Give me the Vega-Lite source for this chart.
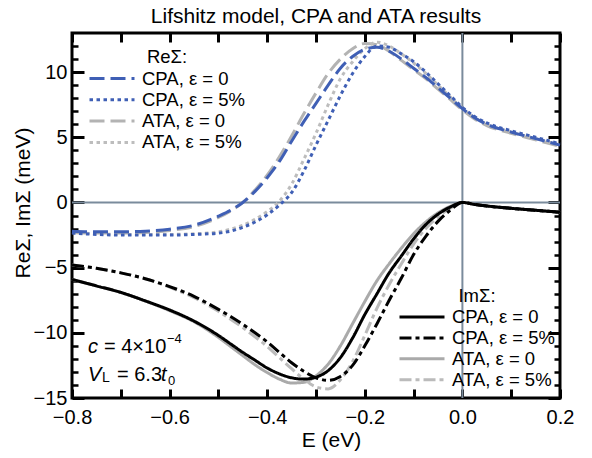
{
"$schema":"https://vega.github.io/schema/vega-lite/v6.json",
"width":488,"height":365,
"autosize":{"type":"none"},
"padding":{"left":72,"top":33,"right":32,"bottom":60},
"title":{"text":"Lifshitz model, CPA and ATA results","fontSize":21,"fontWeight":"normal","color":"black","anchor":"middle","offset":5},
"config":{
 "font":"Liberation Sans",
 "view":{"stroke":"black","strokeWidth":3},
 "axis":{"grid":false,"domain":false,"labelColor":"black","titleColor":"black","tickColor":"black","labelFontSize":20,"titleFontSize":21,"titleFontWeight":"normal","labelFlush":false,"labelOverlap":false},
 "legend":{"symbolType":"stroke","symbolSize":2025,"symbolStrokeWidth":3,"clipHeight":20,"titlePadding":2,"labelFontSize":18.5,"titleFontSize":18.5,"titleFontWeight":"normal","labelOffset":6,"titleAnchor":"middle","titleAlign":"center","labelColor":"black","titleColor":"black","padding":0,"orient":"none"},
 "text":{"fontSize":20,"color":"black"}
},
"data":{"values":[{}]},
"datasets":{
"re":[
{"s":"ATA, ε = 0","E":-0.8,"v":-2.3},{"s":"ATA, ε = 0","E":-0.75,"v":-2.35},{"s":"ATA, ε = 0","E":-0.7,"v":-2.35},{"s":"ATA, ε = 0","E":-0.65,"v":-2.3},{"s":"ATA, ε = 0","E":-0.6,"v":-2.15},{"s":"ATA, ε = 0","E":-0.55,"v":-1.85},{"s":"ATA, ε = 0","E":-0.5,"v":-1.15},{"s":"ATA, ε = 0","E":-0.475,"v":-0.65},{"s":"ATA, ε = 0","E":-0.45,"v":0.0},{"s":"ATA, ε = 0","E":-0.425,"v":0.95},{"s":"ATA, ε = 0","E":-0.4,"v":2.1},{"s":"ATA, ε = 0","E":-0.375,"v":3.5},{"s":"ATA, ε = 0","E":-0.35,"v":5.1},{"s":"ATA, ε = 0","E":-0.325,"v":6.8},{"s":"ATA, ε = 0","E":-0.3,"v":8.4},{"s":"ATA, ε = 0","E":-0.275,"v":9.9},{"s":"ATA, ε = 0","E":-0.25,"v":11.0},{"s":"ATA, ε = 0","E":-0.225,"v":11.8},{"s":"ATA, ε = 0","E":-0.2,"v":12.2},{"s":"ATA, ε = 0","E":-0.175,"v":12.1},{"s":"ATA, ε = 0","E":-0.15,"v":11.6},{"s":"ATA, ε = 0","E":-0.125,"v":10.9},{"s":"ATA, ε = 0","E":-0.1,"v":10.2},{"s":"ATA, ε = 0","E":-0.075,"v":9.5},{"s":"ATA, ε = 0","E":-0.05,"v":8.7},{"s":"ATA, ε = 0","E":-0.025,"v":7.9},{"s":"ATA, ε = 0","E":0,"v":7.1},{"s":"ATA, ε = 0","E":0.025,"v":6.4},{"s":"ATA, ε = 0","E":0.05,"v":5.9},{"s":"ATA, ε = 0","E":0.1,"v":5.3},{"s":"ATA, ε = 0","E":0.15,"v":4.8},{"s":"ATA, ε = 0","E":0.2,"v":4.3},
{"s":"ATA, ε = 5%","E":-0.8,"v":-2.3},{"s":"ATA, ε = 5%","E":-0.75,"v":-2.4},{"s":"ATA, ε = 5%","E":-0.7,"v":-2.45},{"s":"ATA, ε = 5%","E":-0.65,"v":-2.45},{"s":"ATA, ε = 5%","E":-0.6,"v":-2.45},{"s":"ATA, ε = 5%","E":-0.55,"v":-2.4},{"s":"ATA, ε = 5%","E":-0.5,"v":-2.25},{"s":"ATA, ε = 5%","E":-0.475,"v":-2.05},{"s":"ATA, ε = 5%","E":-0.45,"v":-1.75},{"s":"ATA, ε = 5%","E":-0.425,"v":-1.3},{"s":"ATA, ε = 5%","E":-0.4,"v":-0.7},{"s":"ATA, ε = 5%","E":-0.375,"v":0.1},{"s":"ATA, ε = 5%","E":-0.35,"v":1.4},{"s":"ATA, ε = 5%","E":-0.325,"v":3.3},{"s":"ATA, ε = 5%","E":-0.3,"v":5.3},{"s":"ATA, ε = 5%","E":-0.275,"v":7.5},{"s":"ATA, ε = 5%","E":-0.25,"v":9.5},{"s":"ATA, ε = 5%","E":-0.225,"v":10.8},{"s":"ATA, ε = 5%","E":-0.2,"v":11.8},{"s":"ATA, ε = 5%","E":-0.175,"v":12.3},{"s":"ATA, ε = 5%","E":-0.15,"v":12.0},{"s":"ATA, ε = 5%","E":-0.125,"v":11.4},{"s":"ATA, ε = 5%","E":-0.1,"v":10.7},{"s":"ATA, ε = 5%","E":-0.075,"v":9.9},{"s":"ATA, ε = 5%","E":-0.05,"v":9.0},{"s":"ATA, ε = 5%","E":-0.025,"v":8.1},{"s":"ATA, ε = 5%","E":0,"v":7.2},{"s":"ATA, ε = 5%","E":0.025,"v":6.5},{"s":"ATA, ε = 5%","E":0.05,"v":6.0},{"s":"ATA, ε = 5%","E":0.1,"v":5.4},{"s":"ATA, ε = 5%","E":0.15,"v":4.9},{"s":"ATA, ε = 5%","E":0.2,"v":4.4},
{"s":"CPA, ε = 0","E":-0.8,"v":-2.2},{"s":"CPA, ε = 0","E":-0.75,"v":-2.25},{"s":"CPA, ε = 0","E":-0.7,"v":-2.25},{"s":"CPA, ε = 0","E":-0.65,"v":-2.2},{"s":"CPA, ε = 0","E":-0.6,"v":-2.05},{"s":"CPA, ε = 0","E":-0.55,"v":-1.75},{"s":"CPA, ε = 0","E":-0.5,"v":-1.05},{"s":"CPA, ε = 0","E":-0.475,"v":-0.6},{"s":"CPA, ε = 0","E":-0.45,"v":0.0},{"s":"CPA, ε = 0","E":-0.425,"v":0.85},{"s":"CPA, ε = 0","E":-0.4,"v":1.9},{"s":"CPA, ε = 0","E":-0.375,"v":3.15},{"s":"CPA, ε = 0","E":-0.35,"v":4.7},{"s":"CPA, ε = 0","E":-0.325,"v":6.2},{"s":"CPA, ε = 0","E":-0.3,"v":7.6},{"s":"CPA, ε = 0","E":-0.275,"v":9.0},{"s":"CPA, ε = 0","E":-0.25,"v":10.3},{"s":"CPA, ε = 0","E":-0.225,"v":11.2},{"s":"CPA, ε = 0","E":-0.2,"v":11.75},{"s":"CPA, ε = 0","E":-0.175,"v":11.9},{"s":"CPA, ε = 0","E":-0.15,"v":11.6},{"s":"CPA, ε = 0","E":-0.125,"v":11.0},{"s":"CPA, ε = 0","E":-0.1,"v":10.3},{"s":"CPA, ε = 0","E":-0.075,"v":9.6},{"s":"CPA, ε = 0","E":-0.05,"v":8.8},{"s":"CPA, ε = 0","E":-0.025,"v":8.0},{"s":"CPA, ε = 0","E":0,"v":7.2},{"s":"CPA, ε = 0","E":0.025,"v":6.5},{"s":"CPA, ε = 0","E":0.05,"v":6.0},{"s":"CPA, ε = 0","E":0.1,"v":5.4},{"s":"CPA, ε = 0","E":0.15,"v":4.9},{"s":"CPA, ε = 0","E":0.2,"v":4.4},
{"s":"CPA, ε = 5%","E":-0.8,"v":-2.35},{"s":"CPA, ε = 5%","E":-0.75,"v":-2.45},{"s":"CPA, ε = 5%","E":-0.7,"v":-2.5},{"s":"CPA, ε = 5%","E":-0.65,"v":-2.5},{"s":"CPA, ε = 5%","E":-0.6,"v":-2.5},{"s":"CPA, ε = 5%","E":-0.55,"v":-2.45},{"s":"CPA, ε = 5%","E":-0.5,"v":-2.35},{"s":"CPA, ε = 5%","E":-0.475,"v":-2.2},{"s":"CPA, ε = 5%","E":-0.45,"v":-1.9},{"s":"CPA, ε = 5%","E":-0.425,"v":-1.5},{"s":"CPA, ε = 5%","E":-0.4,"v":-0.95},{"s":"CPA, ε = 5%","E":-0.375,"v":-0.2},{"s":"CPA, ε = 5%","E":-0.35,"v":0.75},{"s":"CPA, ε = 5%","E":-0.325,"v":2.4},{"s":"CPA, ε = 5%","E":-0.3,"v":4.4},{"s":"CPA, ε = 5%","E":-0.275,"v":6.3},{"s":"CPA, ε = 5%","E":-0.25,"v":8.2},{"s":"CPA, ε = 5%","E":-0.225,"v":9.9},{"s":"CPA, ε = 5%","E":-0.2,"v":11.2},{"s":"CPA, ε = 5%","E":-0.175,"v":12.0},{"s":"CPA, ε = 5%","E":-0.15,"v":11.9},{"s":"CPA, ε = 5%","E":-0.125,"v":11.4},{"s":"CPA, ε = 5%","E":-0.1,"v":10.8},{"s":"CPA, ε = 5%","E":-0.075,"v":10.0},{"s":"CPA, ε = 5%","E":-0.05,"v":9.1},{"s":"CPA, ε = 5%","E":-0.025,"v":8.2},{"s":"CPA, ε = 5%","E":0,"v":7.3},{"s":"CPA, ε = 5%","E":0.025,"v":6.6},{"s":"CPA, ε = 5%","E":0.05,"v":6.1},{"s":"CPA, ε = 5%","E":0.1,"v":5.5},{"s":"CPA, ε = 5%","E":0.15,"v":5.0},{"s":"CPA, ε = 5%","E":0.2,"v":4.5}
],
"im":[
{"s":"ATA, ε = 0","E":-0.8,"v":-5.9},{"s":"ATA, ε = 0","E":-0.75,"v":-6.4},{"s":"ATA, ε = 0","E":-0.7,"v":-6.9},{"s":"ATA, ε = 0","E":-0.65,"v":-7.55},{"s":"ATA, ε = 0","E":-0.6,"v":-8.3},{"s":"ATA, ε = 0","E":-0.55,"v":-9.15},{"s":"ATA, ε = 0","E":-0.5,"v":-10.35},{"s":"ATA, ε = 0","E":-0.475,"v":-11.05},{"s":"ATA, ε = 0","E":-0.45,"v":-11.75},{"s":"ATA, ε = 0","E":-0.425,"v":-12.45},{"s":"ATA, ε = 0","E":-0.4,"v":-13.05},{"s":"ATA, ε = 0","E":-0.375,"v":-13.55},{"s":"ATA, ε = 0","E":-0.35,"v":-13.85},{"s":"ATA, ε = 0","E":-0.325,"v":-13.8},{"s":"ATA, ε = 0","E":-0.3,"v":-13.3},{"s":"ATA, ε = 0","E":-0.275,"v":-12.4},{"s":"ATA, ε = 0","E":-0.25,"v":-11.0},{"s":"ATA, ε = 0","E":-0.225,"v":-9.3},{"s":"ATA, ε = 0","E":-0.2,"v":-7.6},{"s":"ATA, ε = 0","E":-0.175,"v":-6.0},{"s":"ATA, ε = 0","E":-0.15,"v":-4.7},{"s":"ATA, ε = 0","E":-0.125,"v":-3.5},{"s":"ATA, ε = 0","E":-0.1,"v":-2.4},{"s":"ATA, ε = 0","E":-0.075,"v":-1.5},{"s":"ATA, ε = 0","E":-0.05,"v":-0.8},{"s":"ATA, ε = 0","E":-0.025,"v":-0.3},{"s":"ATA, ε = 0","E":0,"v":0.0},{"s":"ATA, ε = 0","E":0.025,"v":-0.15},{"s":"ATA, ε = 0","E":0.05,"v":-0.27},{"s":"ATA, ε = 0","E":0.1,"v":-0.45},{"s":"ATA, ε = 0","E":0.15,"v":-0.6},{"s":"ATA, ε = 0","E":0.2,"v":-0.75},
{"s":"ATA, ε = 5%","E":-0.8,"v":-4.8},{"s":"ATA, ε = 5%","E":-0.75,"v":-5.05},{"s":"ATA, ε = 5%","E":-0.7,"v":-5.4},{"s":"ATA, ε = 5%","E":-0.65,"v":-5.85},{"s":"ATA, ε = 5%","E":-0.6,"v":-6.5},{"s":"ATA, ε = 5%","E":-0.55,"v":-7.3},{"s":"ATA, ε = 5%","E":-0.5,"v":-8.35},{"s":"ATA, ε = 5%","E":-0.475,"v":-8.95},{"s":"ATA, ε = 5%","E":-0.45,"v":-9.6},{"s":"ATA, ε = 5%","E":-0.425,"v":-10.3},{"s":"ATA, ε = 5%","E":-0.4,"v":-11.05},{"s":"ATA, ε = 5%","E":-0.375,"v":-11.9},{"s":"ATA, ε = 5%","E":-0.35,"v":-12.75},{"s":"ATA, ε = 5%","E":-0.325,"v":-13.55},{"s":"ATA, ε = 5%","E":-0.3,"v":-14.15},{"s":"ATA, ε = 5%","E":-0.275,"v":-14.3},{"s":"ATA, ε = 5%","E":-0.25,"v":-13.6},{"s":"ATA, ε = 5%","E":-0.225,"v":-12.2},{"s":"ATA, ε = 5%","E":-0.2,"v":-10.2},{"s":"ATA, ε = 5%","E":-0.175,"v":-8.1},{"s":"ATA, ε = 5%","E":-0.15,"v":-6.3},{"s":"ATA, ε = 5%","E":-0.125,"v":-4.7},{"s":"ATA, ε = 5%","E":-0.1,"v":-3.2},{"s":"ATA, ε = 5%","E":-0.075,"v":-2.0},{"s":"ATA, ε = 5%","E":-0.05,"v":-1.1},{"s":"ATA, ε = 5%","E":-0.025,"v":-0.45},{"s":"ATA, ε = 5%","E":0,"v":0.0},{"s":"ATA, ε = 5%","E":0.025,"v":-0.15},{"s":"ATA, ε = 5%","E":0.05,"v":-0.27},{"s":"ATA, ε = 5%","E":0.1,"v":-0.45},{"s":"ATA, ε = 5%","E":0.15,"v":-0.6},{"s":"ATA, ε = 5%","E":0.2,"v":-0.75},
{"s":"CPA, ε = 0","E":-0.8,"v":-5.9},{"s":"CPA, ε = 0","E":-0.75,"v":-6.4},{"s":"CPA, ε = 0","E":-0.7,"v":-6.9},{"s":"CPA, ε = 0","E":-0.65,"v":-7.55},{"s":"CPA, ε = 0","E":-0.6,"v":-8.25},{"s":"CPA, ε = 0","E":-0.55,"v":-9.1},{"s":"CPA, ε = 0","E":-0.5,"v":-10.2},{"s":"CPA, ε = 0","E":-0.475,"v":-10.85},{"s":"CPA, ε = 0","E":-0.45,"v":-11.5},{"s":"CPA, ε = 0","E":-0.425,"v":-12.1},{"s":"CPA, ε = 0","E":-0.4,"v":-12.7},{"s":"CPA, ε = 0","E":-0.375,"v":-13.15},{"s":"CPA, ε = 0","E":-0.35,"v":-13.45},{"s":"CPA, ε = 0","E":-0.325,"v":-13.55},{"s":"CPA, ε = 0","E":-0.3,"v":-13.4},{"s":"CPA, ε = 0","E":-0.275,"v":-12.9},{"s":"CPA, ε = 0","E":-0.25,"v":-11.9},{"s":"CPA, ε = 0","E":-0.225,"v":-10.4},{"s":"CPA, ε = 0","E":-0.2,"v":-8.6},{"s":"CPA, ε = 0","E":-0.175,"v":-7.0},{"s":"CPA, ε = 0","E":-0.15,"v":-5.4},{"s":"CPA, ε = 0","E":-0.125,"v":-4.1},{"s":"CPA, ε = 0","E":-0.1,"v":-2.8},{"s":"CPA, ε = 0","E":-0.075,"v":-1.7},{"s":"CPA, ε = 0","E":-0.05,"v":-0.9},{"s":"CPA, ε = 0","E":-0.025,"v":-0.35},{"s":"CPA, ε = 0","E":0,"v":0.0},{"s":"CPA, ε = 0","E":0.025,"v":-0.15},{"s":"CPA, ε = 0","E":0.05,"v":-0.27},{"s":"CPA, ε = 0","E":0.1,"v":-0.45},{"s":"CPA, ε = 0","E":0.15,"v":-0.6},{"s":"CPA, ε = 0","E":0.2,"v":-0.75},
{"s":"CPA, ε = 5%","E":-0.8,"v":-4.8},{"s":"CPA, ε = 5%","E":-0.75,"v":-5.05},{"s":"CPA, ε = 5%","E":-0.7,"v":-5.4},{"s":"CPA, ε = 5%","E":-0.65,"v":-5.85},{"s":"CPA, ε = 5%","E":-0.6,"v":-6.45},{"s":"CPA, ε = 5%","E":-0.55,"v":-7.2},{"s":"CPA, ε = 5%","E":-0.5,"v":-8.2},{"s":"CPA, ε = 5%","E":-0.475,"v":-8.75},{"s":"CPA, ε = 5%","E":-0.45,"v":-9.35},{"s":"CPA, ε = 5%","E":-0.425,"v":-10.0},{"s":"CPA, ε = 5%","E":-0.4,"v":-10.7},{"s":"CPA, ε = 5%","E":-0.375,"v":-11.5},{"s":"CPA, ε = 5%","E":-0.35,"v":-12.3},{"s":"CPA, ε = 5%","E":-0.325,"v":-12.95},{"s":"CPA, ε = 5%","E":-0.3,"v":-13.45},{"s":"CPA, ε = 5%","E":-0.275,"v":-13.65},{"s":"CPA, ε = 5%","E":-0.25,"v":-13.35},{"s":"CPA, ε = 5%","E":-0.225,"v":-12.5},{"s":"CPA, ε = 5%","E":-0.2,"v":-11.0},{"s":"CPA, ε = 5%","E":-0.175,"v":-9.3},{"s":"CPA, ε = 5%","E":-0.15,"v":-7.5},{"s":"CPA, ε = 5%","E":-0.125,"v":-5.8},{"s":"CPA, ε = 5%","E":-0.1,"v":-4.0},{"s":"CPA, ε = 5%","E":-0.075,"v":-2.6},{"s":"CPA, ε = 5%","E":-0.05,"v":-1.45},{"s":"CPA, ε = 5%","E":-0.025,"v":-0.6},{"s":"CPA, ε = 5%","E":0,"v":0.0},{"s":"CPA, ε = 5%","E":0.025,"v":-0.15},{"s":"CPA, ε = 5%","E":0.05,"v":-0.27},{"s":"CPA, ε = 5%","E":0.1,"v":-0.45},{"s":"CPA, ε = 5%","E":0.15,"v":-0.6},{"s":"CPA, ε = 5%","E":0.2,"v":-0.75}
]},
"layer":[
 {"mark":{"type":"rule","color":"#7a8b9c","strokeWidth":2},
  "encoding":{
   "x":{"datum":0,"type":"quantitative","axis":{"orient":"top","values":[-0.8,-0.7,-0.6,-0.5,-0.4,-0.3,-0.2,-0.1,0,0.1,0.2],"labels":false,"tickSize":-9,"tickWidth":3,"title":null}},
   "y":{"datum":-15,"type":"quantitative","axis":{"orient":"left","values":[-14,-13,-12,-11,-9,-8,-7,-6,-4,-3,-2,-1,1,2,3,4,6,7,8,9,11,12],"labels":false,"tickSize":-6,"tickWidth":2.5,"title":null}},
   "y2":{"datum":13}}},
 {"mark":{"type":"rule","color":"#7a8b9c","strokeWidth":2},
  "encoding":{
   "y":{"datum":0,"type":"quantitative","axis":{"orient":"right","values":[-15,-10,-5,0,5,10],"labels":false,"tickSize":-12,"tickWidth":3,"title":null}},
   "x":{"datum":-0.8,"type":"quantitative","axis":null},
   "x2":{"datum":0.2}}},
 {"data":{"name":"re"},
  "mark":{"type":"line","strokeWidth":3,"interpolate":"monotone","strokeCap":"butt"},
  "encoding":{
   "x":{"field":"E","type":"quantitative","scale":{"domain":[-0.8,0.2],"nice":false,"zero":false},
        "axis":{"orient":"bottom","values":[-0.8,-0.6,-0.4,-0.2,0,0.2],"format":".1f","ticks":false,"tickSize":0,"labelPadding":9,"title":"E (eV)","titleX":259,"titleY":42,"titleBaseline":"middle","titleAlign":"center"}},
   "y":{"field":"v","type":"quantitative","scale":{"domain":[-15,13],"nice":false,"zero":false},
        "axis":{"orient":"left","values":[-15,-10,-5,0,5,10],"ticks":false,"tickSize":0,"labelPadding":5,"title":"ReΣ, ImΣ (meV)","titleX":-49,"titleY":169.5,"titleBaseline":"middle","titleAlign":"center","titleAngle":-90}},
   "color":{"field":"s","type":"nominal","scale":{"domain":["CPA, ε = 0","CPA, ε = 5%","ATA, ε = 0","ATA, ε = 5%"],"range":["#3f5fb5","#3f5fb5","#b3b3b3","#bdbdbd"]},
        "legend":{"title":"ReΣ:","legendX":16,"legendY":15,"rowPadding":1.3}},
   "strokeDash":{"field":"s","type":"nominal","scale":{"domain":["CPA, ε = 0","CPA, ε = 5%","ATA, ε = 0","ATA, ε = 5%"],"range":[[15,6],[3.5,3.5],[15,6],[3.5,3.5]]},
        "legend":{"title":"ReΣ:","legendX":16,"legendY":15,"rowPadding":1.3}}}},
 {"data":{"name":"im"},
  "mark":{"type":"line","strokeWidth":3,"interpolate":"monotone","strokeCap":"butt"},
  "encoding":{
   "x":{"field":"E","type":"quantitative","axis":{"orient":"bottom","values":[-0.8,-0.7,-0.6,-0.5,-0.4,-0.3,-0.2,-0.1,0,0.1,0.2],"labels":false,"tickSize":-9,"tickWidth":3,"title":null}},
   "y":{"field":"v","type":"quantitative","axis":{"orient":"left","values":[-15,-10,-5,0,5,10],"labels":false,"tickSize":-12,"tickWidth":3,"title":null}},
   "color":{"field":"s","type":"nominal","scale":{"domain":["CPA, ε = 0","CPA, ε = 5%","ATA, ε = 0","ATA, ε = 5%"],"range":["#000000","#000000","#aaaaaa","#bbbbbb"]},
        "legend":{"title":"ImΣ:","legendX":326,"legendY":253.5,"rowPadding":0.9}},
   "strokeDash":{"field":"s","type":"nominal","scale":{"domain":["CPA, ε = 0","CPA, ε = 5%","ATA, ε = 0","ATA, ε = 5%"],"range":[[1,0],[12,4,4,4],[1,0],[12,4,4,4]]},
        "legend":{"title":"ImΣ:","legendX":326,"legendY":253.5,"rowPadding":0.9}}}},
 {"data":{"values":[{"E":-0.7672,"v":-11.53,"t":"c"},{"E":-0.7672,"v":-13.71,"t":"V"}]},
  "mark":{"type":"text","align":"left","baseline":"alphabetic","fontStyle":"italic"},
  "encoding":{
   "x":{"field":"E","type":"quantitative","axis":null},
   "y":{"field":"v","type":"quantitative","axis":{"orient":"right","values":[-14,-13,-12,-11,-9,-8,-7,-6,-4,-3,-2,-1,1,2,3,4,6,7,8,9,11,12],"labels":false,"tickSize":-6,"tickWidth":2.5,"title":null}},
   "text":{"field":"t"}}},
 {"data":{"values":[{"E":-0.7672,"v":-11.53,"t":"= 4×10"}]},
  "mark":{"type":"text","align":"left","baseline":"alphabetic","dx":16},
  "encoding":{"x":{"field":"E","type":"quantitative","axis":null},"y":{"field":"v","type":"quantitative","axis":null},"text":{"field":"t"}}},
 {"data":{"values":[{"E":-0.7672,"v":-11.53,"t":"−4"}]},
  "mark":{"type":"text","align":"left","baseline":"alphabetic","dx":79,"dy":-10,"fontSize":13},
  "encoding":{"x":{"field":"E","type":"quantitative","axis":null},"y":{"field":"v","type":"quantitative","axis":null},"text":{"field":"t"}}},
 {"data":{"values":[{"E":-0.7672,"v":-13.71,"t":"L"}]},
  "mark":{"type":"text","align":"left","baseline":"alphabetic","dx":14,"dy":1,"fontSize":14},
  "encoding":{"x":{"field":"E","type":"quantitative","axis":null},"y":{"field":"v","type":"quantitative","axis":null},"text":{"field":"t"}}},
 {"data":{"values":[{"E":-0.7672,"v":-13.71,"t":"= 6.3"}]},
  "mark":{"type":"text","align":"left","baseline":"alphabetic","dx":29},
  "encoding":{"x":{"field":"E","type":"quantitative","axis":null},"y":{"field":"v","type":"quantitative","axis":null},"text":{"field":"t"}}},
 {"data":{"values":[{"E":-0.7672,"v":-13.71,"t":"t"}]},
  "mark":{"type":"text","align":"left","baseline":"alphabetic","dx":73,"fontStyle":"italic"},
  "encoding":{"x":{"field":"E","type":"quantitative","axis":null},"y":{"field":"v","type":"quantitative","axis":null},"text":{"field":"t"}}},
 {"data":{"values":[{"E":-0.7672,"v":-13.71,"t":"0"}]},
  "mark":{"type":"text","align":"left","baseline":"alphabetic","dx":80,"dy":4,"fontSize":13},
  "encoding":{"x":{"field":"E","type":"quantitative","axis":null},"y":{"field":"v","type":"quantitative","axis":null},"text":{"field":"t"}}}
],
"resolve":{"scale":{"color":"independent","strokeDash":"independent"},"axis":{"x":"independent","y":"independent"}}
}
